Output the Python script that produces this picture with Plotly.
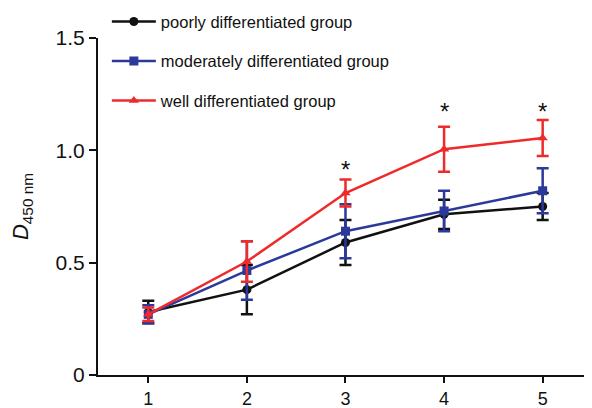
import plotly.graph_objects as go

days = [1, 2, 3, 4, 5]
poor = [0.28, 0.38, 0.59, 0.715, 0.75]
poor_err = [0.05, 0.11, 0.10, 0.065, 0.06]
moderate = [0.27, 0.465, 0.64, 0.73, 0.82]
moderate_err = [0.04, 0.13, 0.12, 0.09, 0.10]
well = [0.27, 0.505, 0.81, 1.005, 1.055]
well_err = [0.03, 0.09, 0.06, 0.10, 0.08]
star_x = [3, 4, 5]
star_y = [0.915, 1.175, 1.175]

series = [
    ("poorly differentiated group", poor, poor_err, "#111111", "circle"),
    ("moderately differentiated group", moderate, moderate_err, "#2b3a9a", "square"),
    ("well differentiated group", well, well_err, "#ee2a2a", "triangle-up"),
]

fig = go.Figure()
for i, (name, y, e, c, sym) in enumerate(series):
    fig.add_trace(go.Scatter(
        x=days, y=y, name=name, mode="lines+markers", legendgroup=f"g{i}",
        line=dict(color=c, width=2.5),
        marker=dict(color=c, symbol=sym, size=9),
        error_y=dict(type="data", array=e, visible=True, color=c, thickness=2.5, width=6),
    ))

for xs, ys in zip(star_x, star_y):
    fig.add_annotation(x=xs, y=ys, text="*", showarrow=False,
                       font=dict(size=24, color="#111111"))

# page body adds an 8px offset, so the figure is 8px smaller than the window
fig.update_layout(
    width=584, height=400,
    margin=dict(l=90, r=2, t=30, b=33, autoexpand=False),
    plot_bgcolor="white", paper_bgcolor="white",
    font=dict(family="Arial, Liberation Sans, sans-serif", color="#111111"),
    showlegend=True,
    legend=dict(x=0.018, y=1.10, xanchor="left", yanchor="top", itemwidth=44,
                font=dict(size=16.5), tracegroupgap=15, bgcolor="rgba(0,0,0,0)"),
)
fig.update_xaxes(range=[0.49, 5.48], tickvals=days, ticktext=[str(d) for d in days],
                 showline=True, linecolor="#111111", linewidth=2, ticks="outside",
                 ticklen=6, tickwidth=2, tickcolor="#111111", showgrid=False,
                 zeroline=False, tickfont=dict(size=18), automargin=False)
fig.update_yaxes(range=[0, 1.5], tickvals=[0, 0.5, 1.0, 1.5], ticktext=["0", "0.5", "1.0", "1.5"],
                 showline=True, linecolor="#111111", linewidth=2, ticks="outside",
                 ticklen=7, tickwidth=2, tickcolor="#111111", showgrid=False,
                 zeroline=False, tickfont=dict(size=21), automargin=False,
                 title=dict(text="<i>D</i><sub>450 nm</sub>", font=dict(size=22), standoff=22))

fig.write_html("out.html")
